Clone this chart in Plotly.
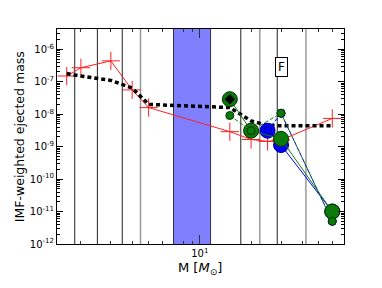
import plotly.graph_objects as go

# ---- data ----
red_mass = [1.65, 2.0, 3.0, 4.0, 5.0, 15.0, 20.0, 25.0, 30.0, 60.0]
red_yield = [1.5e-7, 2.7e-7, 4.4e-7, 5.6e-8, 1.6e-8, 2.9e-9, 1.66e-9, 1.45e-9, 1.6e-9, 7.4e-9]

black_mass = [1.65, 2.0, 3.0, 4.0, 5.0, 15.0, 20.0, 25.0, 30.0, 60.0]
black_yield = [1.8e-7, 1.5e-7, 1.1e-7, 6.4e-8, 2.0e-8, 1.6e-8, 6.2e-9, 4.5e-9, 4.4e-9, 4.4e-9]

green_big_mass = [15.0, 20.0, 30.0, 60.0]
green_big_yield = [2.9e-8, 3.1e-9, 1.74e-9, 1.0e-11]
green_small_mass = [15.0, 20.0, 30.0, 60.0]
green_small_yield = [9.1e-9, 3.1e-9, 1.07e-8, 5.0e-12]

blue_big_mass = [25.0, 30.0, 60.0]
blue_big_yield = [3.1e-9, 1.12e-9, 1.0e-11]
blue_small_mass = [25.0, 30.0, 60.0]
blue_small_yield = [3.1e-9, 1.07e-8, 5.0e-12]

black_marker_mass = [15.0]
black_marker_yield = [2.9e-8]

dark_lines = [1.84, 2.5, 3.5, 17.4, 28.5]
gray_lines = [4.48, 22.5, 42.0]
band = [7.0, 11.56]

y_decades = [-12, -11, -10, -9, -8, -7, -6]
y_ticktext = ["10<sup>-12</sup>", "10<sup>-11</sup>", "10<sup>-10</sup>", "10<sup>-9</sup>",
              "10<sup>-8</sup>", "10<sup>-7</sup>", "10<sup>-6</sup>"]
x_ticks = [10]
x_ticktext = ["10<sup>1</sup>"]

x_title = "M [<i>M</i><sub>⊙</sub>]"
y_title = "IMF-weighted ejected mass"
panel_label = "F"

YLO, YHI = 1e-13, 1e-4

fig = go.Figure()

# shaded band
fig.add_trace(go.Scatter(x=[band[0], band[1], band[1], band[0], band[0]],
                         y=[YLO, YLO, YHI, YHI, YLO], mode="lines", fill="toself",
                         fillcolor="rgb(128,128,255)", line=dict(color="#333", width=1),
                         hoverinfo="skip", showlegend=False))
for v in gray_lines:
    fig.add_trace(go.Scatter(x=[v, v], y=[YLO, YHI], mode="lines",
                             line=dict(color="#999", width=1.5), showlegend=False))
for v in dark_lines:
    fig.add_trace(go.Scatter(x=[v, v], y=[YLO, YHI], mode="lines",
                             line=dict(color="#222", width=1), showlegend=False))

# red line
fig.add_trace(go.Scatter(x=red_mass, y=red_yield, mode="lines+markers",
                         line=dict(color="#ff2020", width=1),
                         marker=dict(symbol="cross-thin", size=13,
                                     line=dict(color="#ff2020", width=1)),
                         showlegend=False))
# black dotted
fig.add_trace(go.Scatter(x=black_mass, y=black_yield, mode="lines",
                         line=dict(color="black", width=3.5, dash="4px,3px"),
                         showlegend=False))

# blue series
fig.add_trace(go.Scatter(x=blue_big_mass, y=blue_big_yield, mode="lines+markers",
                         line=dict(color="blue", width=1),
                         marker=dict(size=15, color="blue", line=dict(color="#000080", width=1)),
                         showlegend=False))
fig.add_trace(go.Scatter(x=blue_small_mass, y=blue_small_yield, mode="lines+markers",
                         line=dict(color="blue", width=1, dash="4px,2px"),
                         marker=dict(size=8, color="blue", line=dict(color="#000080", width=1)),
                         showlegend=False))
# green series
fig.add_trace(go.Scatter(x=green_big_mass, y=green_big_yield, mode="lines+markers",
                         line=dict(color="#1a7a1a", width=1),
                         marker=dict(size=15, color="#0b7a0b", line=dict(color="#003300", width=1)),
                         showlegend=False))
fig.add_trace(go.Scatter(x=green_small_mass, y=green_small_yield, mode="lines+markers",
                         line=dict(color="#1a7a1a", width=1, dash="4px,2px"),
                         marker=dict(size=8, color="#0b7a0b", line=dict(color="#003300", width=1)),
                         showlegend=False))
fig.add_trace(go.Scatter(x=black_marker_mass, y=black_marker_yield, mode="markers",
                         marker=dict(symbol="diamond", size=8, color="black"),
                         showlegend=False))

# minor tick positions
x_minor = [k * 10 ** n for n in range(0, 2) for k in range(2, 10)]
y_minor = [k * 10.0 ** n for n in range(-12, -5) for k in range(2, 10)]

font = "DejaVu Sans"
fig.update_layout(
    width=366, height=272,
    margin=dict(l=49, r=30, t=21, b=36, autoexpand=False),
    paper_bgcolor="white", plot_bgcolor="white",
    font=dict(family=font, size=10, color="black"),
    xaxis=dict(type="log", range=[0.1606, 1.847], showgrid=False, zeroline=False,
               automargin=False,
               tickmode="array", tickvals=x_ticks, ticktext=x_ticktext,
               ticks="inside", ticklen=9, tickcolor="#333", mirror="allticks",
               showline=True, linecolor="black", linewidth=1,
               tickfont=dict(size=10),
               minor=dict(tickmode="array", tickvals=x_minor, ticks="inside", ticklen=3,
                          tickcolor="#333", showgrid=False)),
    yaxis=dict(type="log", range=[-12, -5.375], showgrid=False, zeroline=False,
               automargin=False,
               tickmode="array", tickvals=[10.0 ** d for d in y_decades], ticktext=y_ticktext,
               ticks="inside", ticklen=6, tickcolor="black", mirror="allticks",
               showline=True, linecolor="black", linewidth=1,
               tickfont=dict(size=10),
               minor=dict(tickmode="array", tickvals=y_minor, ticks="inside", ticklen=3,
                          tickcolor="black", showgrid=False)),
    annotations=[
        dict(text=panel_label, xref="paper", yref="paper", x=0.804, y=0.870,
             showarrow=False, font=dict(size=12, family=font),
             bordercolor="black", borderwidth=1, borderpad=2, bgcolor="white"),
        dict(text=x_title, xref="paper", yref="paper", x=0.498, y=-0.112,
             xanchor="center", yanchor="middle", showarrow=False,
             font=dict(size=13, family=font)),
        dict(text=y_title, xref="paper", yref="paper", x=-0.130, y=0.5,
             xanchor="center", yanchor="middle", textangle=-90, showarrow=False,
             font=dict(size=12.5, family=font)),
    ],
)

fig.write_html("out.html")
